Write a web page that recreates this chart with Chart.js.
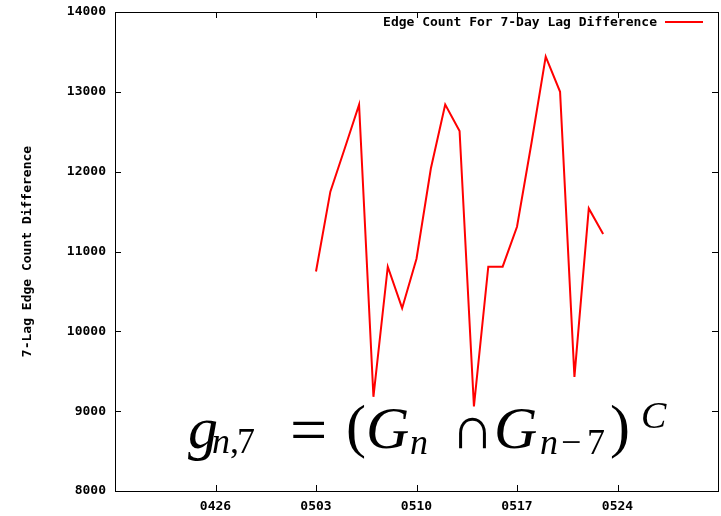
<!DOCTYPE html>
<html>
<head>
<meta charset="utf-8">
<script src="https://cdn.jsdelivr.net/npm/chart.js@4/dist/chart.umd.min.js"></script>
<style>
  html, body { margin: 0; padding: 0; background: #fff; }
  #wrap { width: 721px; height: 516px; }
</style>
</head>
<body>
<div id="wrap"><canvas id="lagChart" width="721" height="516"></canvas></div>
<script>
// data (one value per day, MMDD)
const days = ['0503', '0504', '0505', '0506', '0507', '0508', '0509', '0510', '0511', '0512', '0513',
              '0514', '0515', '0516', '0517', '0518', '0519', '0520', '0521', '0522', '0523'];
const edgeDiff = [10750, 11750, 12290, 12840, 9180, 10810, 10290, 10910, 12040, 12840, 12510,
                  9060, 10810, 10810, 11310, 12350, 13440, 13000, 9430, 11540, 11220];
const xTickLabels = ['0426', '0503', '0510', '0517', '0524'];
const xStart = '0419';
const xEnd = '0531';
const yTicks = [8000, 9000, 10000, 11000, 12000, 13000, 14000];

const monoFont = { family: '"DejaVu Sans Mono", "Liberation Mono", monospace', size: 13, weight: 'bold' };

// days since xStart
function dayIndex(s) {
    const d = new Date(2000, +s.slice(0, 2) - 1, +s.slice(2));
    const d0 = new Date(2000, +xStart.slice(0, 2) - 1, +xStart.slice(2));
    return Math.round((d - d0) / 86400000);
}

// gnuplot-ish frame with inward ticks on all four sides
const framePlugin = {
    id: 'frame',
    afterDatasetsDraw(chart) {
        const {ctx, chartArea: a, scales} = chart;
        const tl = 6;
        ctx.save();
        ctx.strokeStyle = '#000';
        ctx.lineWidth = 1;
        ctx.beginPath();
        scales.x.ticks.forEach(t => {
            const px = Math.round(scales.x.getPixelForValue(t.value)) + 0.5;
            ctx.moveTo(px, a.bottom); ctx.lineTo(px, a.bottom - tl);
            ctx.moveTo(px, a.top); ctx.lineTo(px, a.top + tl);
        });
        scales.y.ticks.forEach(t => {
            const py = Math.round(scales.y.getPixelForValue(t.value)) + 0.5;
            ctx.moveTo(a.left, py); ctx.lineTo(a.left + tl, py);
            ctx.moveTo(a.right, py); ctx.lineTo(a.right - tl, py);
        });
        ctx.stroke();
        ctx.strokeRect(Math.round(a.left) + 0.5, Math.round(a.top) + 0.5,
                       Math.round(a.right - a.left), Math.round(a.bottom - a.top));
        ctx.restore();
    }
};

// legend: text then line sample, top right
const keyPlugin = {
    id: 'key',
    afterDraw(chart) {
        const {ctx} = chart;
        const ds = chart.data.datasets[0];
        ctx.save();
        ctx.font = 'bold 13px "DejaVu Sans Mono", monospace';
        ctx.fillStyle = '#000';
        ctx.textAlign = 'right';
        ctx.textBaseline = 'middle';
        ctx.fillText(ds.label, 657, 23);
        ctx.strokeStyle = ds.borderColor;
        ctx.lineWidth = 2;
        ctx.beginPath();
        ctx.moveTo(665, 22); ctx.lineTo(703, 22);
        ctx.stroke();
        ctx.restore();
    }
};

// formula annotation
const formulaPlugin = {
    id: 'formula',
    afterDraw(chart) {
        const {ctx} = chart;
        const it = (px) => 'italic ' + px + 'px "Liberation Serif", "DejaVu Serif", serif';
        const up = (px) => px + 'px "Liberation Serif", "DejaVu Serif", serif';
        const parts = [
            ['g', 188, 448, it(60)],
            ['n', 212, 453, it(36)],
            [',', 230, 453, up(36)],
            ['7', 237, 453, up(36)],
            ['=', 290, 452, up(66)],
            ['(', 346, 446, up(60)],
            ['G', 366, 448, it(60)],
            ['n', 410, 454, it(36)],
            ['\u2229', 451, 448, up(60)],
            ['G', 494, 448, it(60)],
            ['n', 540, 454, it(36)],
            ['\u2212', 561, 454, up(36)],
            ['7', 587, 454, up(36)],
            [')', 610, 446, up(60)],
            ['C', 641, 428, it(38)]
        ];
        ctx.save();
        ctx.fillStyle = '#000';
        ctx.textAlign = 'left';
        ctx.textBaseline = 'alphabetic';
        parts.forEach(p => {
            ctx.font = p[3];
            ctx.fillText(p[0], p[1], p[2]);
        });
        ctx.restore();
    }
};

const ctx = document.getElementById('lagChart');
const lagChart = new Chart(ctx, {
    type: 'line',
    data: {
        datasets: [{
            label: 'Edge Count For 7-Day Lag Difference',
            data: days.map((d, i) => ({x: dayIndex(d), y: edgeDiff[i]})),
            borderColor: '#ff0000',
            borderWidth: 2,
            pointRadius: 0,
            tension: 0,
            fill: false
        }]
    },
    options: {
        responsive: false,
        animation: false,
        layout: {padding: {top: 12, right: 3, left: 0, bottom: 0}},
        plugins: {
            legend: {display: false},
            tooltip: {enabled: false}
        },
        scales: {
            x: {
                type: 'linear',
                min: dayIndex(xStart),
                max: dayIndex(xEnd),
                grid: {display: false, drawTicks: false},
                border: {display: false},
                afterBuildTicks: (scale) => {
                    scale.ticks = xTickLabels.map(l => ({value: dayIndex(l)}));
                },
                afterFit: (scale) => {
                    scale.height = 25;
                    scale.paddingLeft = 0;
                    scale.paddingRight = 0;
                },
                ticks: {
                    color: '#000',
                    font: monoFont,
                    padding: 8,
                    maxRotation: 0,
                    autoSkip: false,
                    callback: (v) => xTickLabels.find(l => dayIndex(l) === v) || ''
                }
            },
            y: {
                min: 8000,
                max: 14000,
                grid: {display: false, drawTicks: false},
                border: {display: false},
                afterBuildTicks: (scale) => {
                    scale.ticks = yTicks.map(v => ({value: v}));
                },
                afterFit: (scale) => {
                    scale.width = 115;
                    scale.paddingTop = 0;
                    scale.paddingBottom = 0;
                },
                ticks: {
                    color: '#000',
                    font: monoFont,
                    padding: 9,
                    callback: (v) => String(v)
                },
                title: {
                    display: true,
                    text: '7-Lag Edge Count Difference',
                    color: '#000',
                    font: monoFont,
                    padding: {top: 20, bottom: 0}
                }
            }
        }
    },
    plugins: [framePlugin, keyPlugin, formulaPlugin]
});
</script>
</body>
</html>
